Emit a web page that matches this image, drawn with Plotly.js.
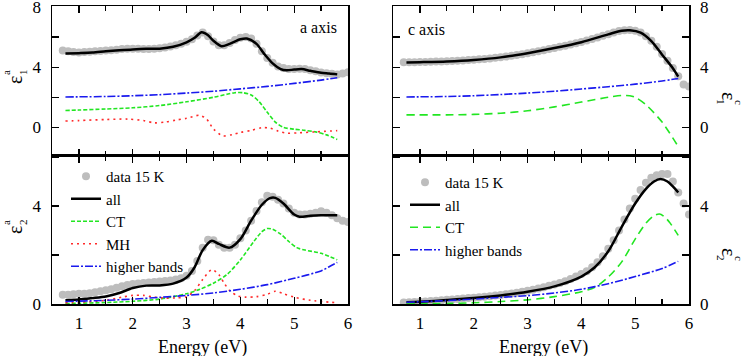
<!DOCTYPE html>
<html>
<head>
<meta charset="utf-8">
<script src="https://cdn.plot.ly/plotly-3.0.1.min.js"></script>
<style>html,body{margin:0;padding:0;background:#fff;}#chart{width:749px;height:356px;}</style>
</head>
<body>
<div id="chart"></div>
<script>
// ---------- data ----------
// measured data grid (eV)
const dataE = [0.7,0.8,0.9,1.0,1.1,1.2,1.3,1.4,1.5,1.6,1.7,1.8,1.9,2.0,2.1,2.2,2.3,2.4,2.5,2.6,2.7,2.8,2.9,3.0,3.1,3.2,3.3,3.4,3.5,3.6,3.7,3.8,3.9,4.0,4.1,4.2,4.3,4.4,4.5,4.6,4.7,4.8,4.9,5.0,5.1,5.2,5.3,5.4,5.5,5.6,5.7,5.8,5.9,6.0];

// a axis, eps1
const e1aData = [5.1,5.05,5.0,4.98,5.0,5.02,5.05,5.08,5.1,5.13,5.16,5.2,5.22,5.22,5.22,5.2,5.2,5.22,5.25,5.3,5.37,5.45,5.55,5.68,5.85,6.1,6.3,6.05,5.7,5.45,5.45,5.6,5.8,5.95,6.0,5.9,5.55,5.05,4.6,4.3,4.05,3.95,3.88,3.88,3.9,3.88,3.8,3.72,3.65,3.6,3.56,3.52,3.58,3.66];
const e1aAllE = [0.75,1.0,1.25,1.5,1.75,2.0,2.25,2.5,2.75,3.0,3.15,3.28,3.4,3.5,3.65,3.8,4.0,4.12,4.3,4.45,4.6,4.75,4.86,5.0,5.14,5.3,5.5,5.65,5.8];
const e1aAll  = [4.9,4.93,4.97,5.05,5.12,5.18,5.22,5.23,5.35,5.65,5.95,6.32,6.12,5.75,5.39,5.55,5.85,5.9,5.55,4.85,4.25,3.87,3.79,3.84,3.87,3.76,3.63,3.58,3.52];
const e1aCTE = [0.75,1.0,1.5,2.0,2.5,3.0,3.5,3.75,3.9,4.05,4.2,4.35,4.5,4.65,4.8,5.0,5.2,5.4,5.6,5.8];
const e1aCT  = [1.12,1.15,1.22,1.3,1.45,1.7,2.0,2.2,2.3,2.3,2.15,1.7,1.0,0.35,0.0,-0.12,-0.2,-0.3,-0.5,-0.8];
const e1aMHE = [0.75,1.0,1.5,1.9,2.2,2.4,2.6,2.8,3.0,3.24,3.37,3.5,3.67,3.85,4.0,4.2,4.4,4.55,4.7,4.85,5.1,5.4,5.8];
const e1aMH  = [0.42,0.45,0.52,0.55,0.45,0.3,0.35,0.48,0.6,0.8,0.56,-0.1,-0.56,-0.48,-0.34,-0.2,-0.02,-0.05,-0.25,-0.38,-0.36,-0.3,-0.22];
const e1aHBE = [0.75,1.5,2.0,2.5,3.0,3.5,4.0,4.5,5.0,5.5,5.8];
const e1aHB  = [2.02,2.05,2.1,2.17,2.28,2.4,2.56,2.72,2.92,3.14,3.3];

// a axis, eps2
const e2aData = [0.38,0.38,0.4,0.42,0.42,0.44,0.48,0.52,0.56,0.6,0.66,0.72,0.78,0.82,0.84,0.86,0.88,0.9,0.92,0.94,0.96,1.0,1.05,1.15,1.35,1.75,2.3,2.62,2.6,2.42,2.3,2.3,2.42,2.68,3.0,3.4,3.8,4.15,4.42,4.38,4.25,4.1,3.9,3.72,3.65,3.65,3.68,3.72,3.78,3.72,3.62,3.5,3.4,3.35];
const e2aAllE = [0.75,1.0,1.25,1.5,1.75,2.0,2.25,2.5,2.75,3.0,3.15,3.3,3.47,3.6,3.8,4.0,4.2,4.4,4.55,4.65,4.8,5.0,5.1,5.3,5.5,5.8];
const e2aAll  = [0.15,0.18,0.24,0.31,0.45,0.65,0.75,0.76,0.83,1.08,1.5,2.2,2.58,2.45,2.3,2.65,3.4,4.05,4.32,4.33,4.1,3.65,3.56,3.6,3.62,3.62];
const e2aCTE = [0.75,1.0,1.5,2.0,2.5,3.0,3.25,3.5,3.75,4.0,4.25,4.4,4.5,4.6,4.75,4.9,5.05,5.2,5.5,5.8];
const e2aCT  = [0.02,0.03,0.06,0.11,0.2,0.42,0.6,0.85,1.2,1.8,2.55,2.95,3.08,3.05,2.85,2.55,2.3,2.2,2.07,1.8];
const e2aMHE = [0.75,1.0,1.5,1.8,2.0,2.2,2.4,2.6,2.8,3.0,3.15,3.3,3.47,3.6,3.7,3.8,3.95,4.1,4.3,4.5,4.65,4.8,5.0,5.3,5.8];
const e2aMH  = [0.05,0.07,0.15,0.28,0.35,0.35,0.28,0.24,0.25,0.3,0.55,1.0,1.4,1.2,0.85,0.55,0.33,0.28,0.3,0.4,0.52,0.42,0.28,0.15,0.05];
const e2aHBE = [0.75,1.5,2.0,2.5,3.0,3.5,4.0,4.5,5.0,5.5,5.65,5.8];
const e2aHB  = [0.1,0.15,0.2,0.27,0.35,0.45,0.6,0.79,1.05,1.35,1.52,1.7];

// c axis, eps1
const e1cData = [4.32,4.33,4.33,4.34,4.35,4.36,4.37,4.38,4.39,4.41,4.43,4.45,4.47,4.49,4.52,4.55,4.58,4.62,4.66,4.7,4.75,4.8,4.86,4.93,4.99,5.06,5.13,5.2,5.27,5.35,5.43,5.51,5.59,5.67,5.77,5.87,5.97,6.08,6.19,6.3,6.4,6.45,6.47,6.42,6.3,6.05,5.75,5.35,4.88,4.42,3.95,3.4,2.85,2.72];
const e1cAllE = [0.75,1.0,1.5,2.0,2.5,3.0,3.5,4.0,4.5,4.75,4.9,5.1,5.3,5.5,5.7,5.8];
const e1cAll  = [4.31,4.33,4.38,4.48,4.65,4.93,5.27,5.66,6.18,6.42,6.45,6.29,5.73,4.83,3.93,3.37];
const e1cCTE = [0.75,1.5,2.0,2.5,3.0,3.5,4.0,4.5,4.75,4.9,5.0,5.2,5.5,5.8];
const e1cCT  = [0.83,0.83,0.86,0.94,1.1,1.36,1.68,2.0,2.12,2.1,2.0,1.5,0.35,-1.28];
const e1cHBE = [0.75,1.5,2.0,2.5,3.0,3.5,4.0,4.5,5.0,5.5,5.8];
const e1cHB  = [2.02,2.05,2.1,2.18,2.28,2.4,2.55,2.7,2.87,3.08,3.25];

// c axis, eps2
const e2cData = [0.06,0.07,0.08,0.09,0.1,0.12,0.13,0.15,0.17,0.18,0.2,0.22,0.24,0.26,0.28,0.3,0.32,0.35,0.37,0.4,0.43,0.46,0.5,0.54,0.58,0.63,0.68,0.74,0.8,0.86,0.93,1.02,1.12,1.22,1.34,1.5,1.7,1.95,2.25,2.6,3.0,3.45,3.9,4.3,4.65,4.95,5.15,5.25,5.3,5.3,5.0,4.55,4.1,3.65];
const e2cAllE = [0.75,1.0,1.5,2.0,2.5,3.0,3.5,4.0,4.25,4.5,4.75,5.0,5.2,5.35,5.47,5.6,5.7,5.8];
const e2cAll  = [0.07,0.09,0.16,0.24,0.35,0.5,0.72,1.12,1.5,2.15,3.15,4.1,4.7,5.0,5.1,5.0,4.8,4.55];
const e2cCTE = [0.75,1.5,2.0,2.5,3.0,3.5,4.0,4.25,4.5,4.75,5.0,5.2,5.35,5.45,5.55,5.65,5.8];
const e2cCT  = [0.0,0.02,0.05,0.1,0.17,0.3,0.5,0.68,1.1,1.72,2.65,3.3,3.6,3.67,3.55,3.3,2.8];
const e2cHBE = [0.75,1.5,2.0,2.5,3.0,3.5,4.0,4.5,5.0,5.5,5.8];
const e2cHB  = [0.07,0.14,0.2,0.27,0.34,0.45,0.6,0.83,1.12,1.45,1.74];

const legendNames = ["data 15 K","all","CT","MH","higher bands"];
const xTickVals = [1,2,3,4,5,6];
const yTickVals = [0,2,4,6,8];
const yTickText = ["0","","4","","8"];
const panelTexts = ["a axis","c axis"];
const xTitle = "Energy (eV)";

// ---------- styles ----------
const FONT = "Times New Roman, Liberation Serif, Times, serif";
const GRAY = "#bdbdbd", BLACK = "#000000", GREEN = "#22e622", RED = "#ff2a2a", BLUE = "#1a1aee";

function dataTrace(y, xa, ya, leg, show){
  return {x: dataE, y: y, xaxis: xa, yaxis: ya, mode: "markers", name: legendNames[0],
    marker: {color: GRAY, size: 8}, showlegend: show, legend: leg};
}
function lineTrace(x, y, xa, ya, name, color, dash, width, leg, show){
  return {x: x, y: y, xaxis: xa, yaxis: ya, mode: "lines", name: name,
    line: {color: color, dash: dash, width: width, shape: "spline", smoothing: 0.8},
    showlegend: show, legend: leg};
}
const dashCTa = "4px,2px", dashMH = "2px,4px", dashHB = "8px,2px,2px,2px", dashCTc = "8px,5px";

const traces = [
  // top-left
  dataTrace(e1aData, "x", "y", "legend", false),
  lineTrace(e1aAllE, e1aAll, "x", "y", legendNames[1], BLACK, "solid", 2.5, "legend", false),
  lineTrace(e1aCTE, e1aCT, "x", "y", legendNames[2], GREEN, dashCTa, 1.6, "legend", false),
  lineTrace(e1aMHE, e1aMH, "x", "y", legendNames[3], RED, dashMH, 1.6, "legend", false),
  lineTrace(e1aHBE, e1aHB, "x", "y", legendNames[4], BLUE, dashHB, 1.6, "legend", false),
  // bottom-left
  dataTrace(e2aData, "x2", "y2", "legend", true),
  lineTrace(e2aAllE, e2aAll, "x2", "y2", legendNames[1], BLACK, "solid", 2.5, "legend", true),
  lineTrace(e2aCTE, e2aCT, "x2", "y2", legendNames[2], GREEN, dashCTa, 1.6, "legend", true),
  lineTrace(e2aMHE, e2aMH, "x2", "y2", legendNames[3], RED, dashMH, 1.6, "legend", true),
  lineTrace(e2aHBE, e2aHB, "x2", "y2", legendNames[4], BLUE, dashHB, 1.6, "legend", true),
  // top-right
  dataTrace(e1cData, "x3", "y3", "legend2", false),
  lineTrace(e1cAllE, e1cAll, "x3", "y3", legendNames[1], BLACK, "solid", 2.5, "legend2", false),
  lineTrace(e1cCTE, e1cCT, "x3", "y3", legendNames[2], GREEN, dashCTc, 1.6, "legend2", false),
  lineTrace(e1cHBE, e1cHB, "x3", "y3", legendNames[4], BLUE, dashHB, 1.6, "legend2", false),
  // bottom-right
  dataTrace(e2cData, "x4", "y4", "legend2", true),
  lineTrace(e2cAllE, e2cAll, "x4", "y4", legendNames[1], BLACK, "solid", 2.5, "legend2", true),
  lineTrace(e2cCTE, e2cCT, "x4", "y4", legendNames[2], GREEN, dashCTc, 1.6, "legend2", true),
  lineTrace(e2cHBE, e2cHB, "x4", "y4", legendNames[4], BLUE, dashHB, 1.6, "legend2", true)
];

const W = 749, H = 356;
const px = v => v / W, py = v => 1 - v / H;
const xL = [px(52), px(348)], xR = [px(393), px(689)];
const yT = [py(155.5), py(6.2)], yB = [py(304), py(155.5)];

function xaxisDef(domain, anchor, labels){
  return {domain: domain, anchor: anchor, range: [0.5, 6], tickvals: xTickVals,
    ticks: "inside", ticklen: 7, tickwidth: 1.2, tickcolor: "#000",
    minor: {dtick: 0.5, tick0: 0.5, ticks: "inside", ticklen: 5, tickwidth: 1.2, tickcolor: "#000", showgrid: false},
    showline: true, linecolor: "#000", linewidth: 1.5, mirror: "allticks",
    showgrid: false, zeroline: false, showticklabels: labels, ticklabelstandoff: 3,
    ticklabeloverflow: "allow",
    tickfont: {family: FONT, size: 17, color: "#000"}};
}
function yaxisDef(domain, anchor, range, side, mirror){
  return {domain: domain, anchor: anchor, range: range, side: side,
    tickvals: yTickVals, ticktext: yTickText,
    ticks: "inside", ticklen: 7, tickwidth: 1.2, tickcolor: "#000",
    showline: true, linecolor: "#000", linewidth: 1.5, mirror: mirror,
    showgrid: false, zeroline: false, ticklabelstandoff: 6,
    ticklabeloverflow: "allow",
    tickfont: {family: FONT, size: 17, color: "#000"}};
}

const ann = [];
function A(text, x, y, size, angle){
  ann.push({text: text, x: px(x), y: py(y), xref: "paper", yref: "paper", showarrow: false,
    xanchor: "center", yanchor: "middle", textangle: angle,
    font: {family: FONT, size: size, color: "#000"}});
}
// y titles (left: rotated -90, right: rotated 90)
A("ε", 15, 80, 20, -90); A("a", 6, 73, 11, -90); A("1", 23, 72, 11, -90);
A("ε", 15, 230, 20, -90); A("a", 6, 223, 11, -90); A("2", 23, 222, 11, -90);
A("ε", 729, 96, 20, 90); A("c", 739, 102, 11, 90); A("1", 721, 102, 11, 90);
A("ε", 729, 252, 20, 90); A("c", 739, 258, 11, 90); A("2", 721, 258, 11, 90);
// x titles
A(xTitle, 202, 347, 18, 0);
A(xTitle, 543, 347, 18, 0);
// panel labels
A(panelTexts[0], 318, 28, 16, 0);
A(panelTexts[1], 427, 29, 16, 0);

const legendDef = (x, y) => ({x: px(x), y: py(y), xref: "paper", yref: "paper", xanchor: "left", yanchor: "top",
  bgcolor: "rgba(0,0,0,0)", borderwidth: 0, tracegroupgap: 0, itemwidth: 30,
  font: {family: FONT, size: 15, color: "#000"}});

const layout = {
  width: W, height: H, margin: {l: 0, r: 0, t: 0, b: 0},
  paper_bgcolor: "#fff", plot_bgcolor: "#fff",
  font: {family: FONT, size: 16, color: "#000"},
  xaxis: xaxisDef(xL, "y", false),
  yaxis: yaxisDef(yT, "x", [-1.87, 8.05], "left", true),
  xaxis2: xaxisDef(xL, "y2", true),
  yaxis2: yaxisDef(yB, "x2", [0, 6.06], "left", true),
  xaxis3: xaxisDef(xR, "y3", false),
  yaxis3: yaxisDef(yT, "x3", [-1.87, 8.05], "right", "allticks"),
  xaxis4: xaxisDef(xR, "y4", true),
  yaxis4: yaxisDef(yB, "x4", [0, 6.06], "right", "allticks"),
  legend: legendDef(66, 160),
  legend2: legendDef(405, 166),
  annotations: ann
};

Plotly.newPlot("chart", traces, layout, {staticPlot: true, displayModeBar: false});
</script>
</body>
</html>
